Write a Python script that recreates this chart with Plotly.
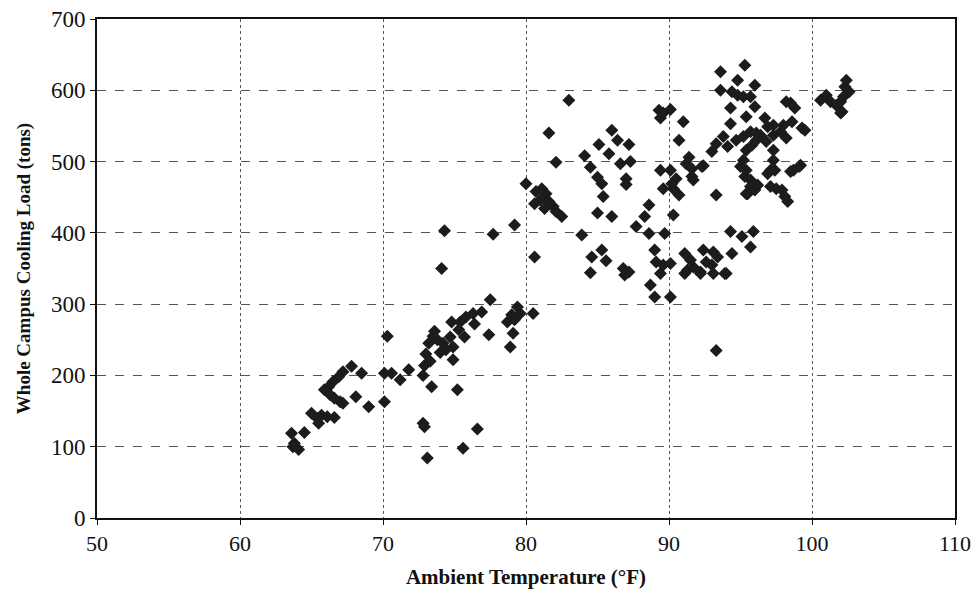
import plotly.graph_objects as go

# Ambient temperature (°F) and whole-campus cooling load (tons)
temp_a = [63.6, 63.8, 63.7, 64.1, 64.5, 65.0, 65.4, 65.7, 66.1, 66.6, 65.5, 67.2, 66.9, 66.5, 66.2, 65.9,
          66.3, 66.6, 67.0, 67.2, 67.8, 68.5, 68.1, 69.0, 70.1, 70.3, 70.1, 70.6, 71.2, 71.8, 72.8, 72.9,
          72.8, 72.9, 73.1]
load_a = [119, 105, 100, 96, 120, 147, 140, 144, 142, 141, 133, 205, 198, 191, 184, 180,
          173, 168, 163, 161, 213, 203, 170, 156, 163, 255, 203, 203, 194, 208, 200, 214,
          133, 128, 84]

temp_b = [73.4, 73.0, 73.2, 73.5, 73.8, 73.3, 74.2, 74.7, 74.9, 74.9, 75.3, 75.7, 74.8, 75.4, 75.8, 76.3,
          76.9, 76.4, 77.5, 77.4, 75.2, 75.6, 76.6, 74.3, 74.1, 77.7, 79.2, 79.4, 79.0, 79.6, 79.2, 78.7,
          79.1, 78.9, 80.5, 80.6, 73.6, 74.0, 74.4]
load_b = [184, 230, 245, 255, 250, 220, 245, 254, 240, 222, 264, 254, 275, 275, 282, 287,
          289, 272, 306, 257, 180, 98, 125, 403, 350, 398, 411, 296, 285, 287, 278, 275,
          259, 240, 287, 366, 262, 232, 236]

temp_c = [80.0, 80.7, 81.1, 81.4, 81.0, 80.6, 81.6, 81.3, 81.9, 82.1, 82.5, 81.6, 82.1, 83.0, 83.9]
load_c = [469, 458, 462, 455, 446, 441, 444, 434, 437, 430, 423, 540, 499, 586, 397]

temp_d = [84.6, 85.3, 85.6, 84.5, 86.0, 86.4, 87.2, 85.1, 85.8, 84.1, 86.6, 87.3, 84.5, 85.0, 85.3, 87.0,
          87.0, 85.4, 85.0, 86.0, 86.8, 87.2, 86.9, 88.7, 89.0, 90.1, 89.0, 89.1, 89.6, 90.1, 89.4, 91.1,
          92.2, 89.3, 90.1, 89.4, 89.6, 91.0, 90.7, 91.4, 91.2, 91.6, 91.6, 91.7, 92.4, 89.4, 90.1, 90.5,
          89.6, 90.3, 90.7, 88.6, 88.3, 87.7, 88.6, 89.7, 90.3, 91.1, 91.5, 91.3, 91.7, 92.2, 92.4, 92.3,
          90.2]
load_d = [366, 376, 361, 344, 544, 530, 524, 524, 511, 508, 497, 500, 492, 478, 469, 476,
          468, 451, 428, 423, 350, 345, 341, 327, 310, 310, 376, 359, 355, 357, 343, 343,
          343, 572, 573, 561, 568, 556, 530, 506, 497, 490, 479, 474, 494, 488, 488, 476,
          462, 462, 453, 439, 423, 409, 399, 399, 425, 371, 362, 348, 352, 345, 376, 493,
          469]

temp_e = [93.1, 93.4, 94.0, 93.0, 92.6, 93.1, 93.9, 94.4, 94.3, 95.1, 95.9, 95.7, 93.3, 95.5, 93.3, 93.6,
          95.3, 94.8, 96.0, 93.6, 94.4, 94.8, 95.2, 95.7, 94.3, 95.4, 96.0, 94.3, 93.8, 93.3, 94.1, 94.7,
          95.2, 95.7, 96.1, 95.8, 95.4, 93.0, 95.2, 95.4, 95.0, 95.7, 96.0, 95.4, 95.3, 95.7, 96.1, 96.7,
          96.9, 97.3, 98.0, 98.6, 97.8, 99.3, 98.2, 97.3, 96.4, 96.1, 96.8, 98.2, 98.8, 98.5, 99.5, 97.3,
          97.3, 97.1, 97.4, 96.9, 98.5, 99.1, 98.7, 99.2, 96.2, 97.1, 97.5, 97.9, 98.1, 98.3]
load_e = [373, 366, 343, 355, 359, 343, 343, 371, 402, 395, 402, 380, 453, 455, 235, 626,
          635, 614, 607, 600, 598, 593, 591, 591, 575, 563, 577, 553, 535, 525, 521, 530,
          535, 542, 540, 523, 516, 514, 502, 488, 493, 465, 460, 455, 479, 474, 465, 561,
          549, 551, 551, 556, 542, 547, 533, 537, 537, 530, 528, 584, 575, 582, 544, 516,
          502, 488, 488, 483, 486, 493, 488, 495, 467, 465, 462, 460, 451, 444]

temp_f = [100.6, 101.0, 101.3, 102.4, 102.3, 102.6, 102.2, 102.0, 101.7, 102.1, 102.0]
load_f = [586, 593, 584, 614, 605, 598, 591, 584, 579, 570, 568]

x_ticks = [50, 60, 70, 80, 90, 100, 110]
y_ticks = [0, 100, 200, 300, 400, 500, 600, 700]

temps = temp_a + temp_b + temp_c + temp_d + temp_e + temp_f
loads = load_a + load_b + load_c + load_d + load_e + load_f

fig = go.Figure()
fig.add_trace(go.Scatter(
    x=temps, y=loads, mode="markers",
    marker=dict(symbol="diamond", size=10, color="#1c1c1c", line=dict(width=0)),
    showlegend=False,
))

font_family = "Liberation Serif, Times New Roman, serif"
fig.update_layout(
    width=974, height=598, autosize=False,
    margin=dict(l=97, r=19, t=19, b=80),
    paper_bgcolor="white", plot_bgcolor="white",
    font=dict(family=font_family, color="#111111", size=20),
)
fig.update_xaxes(
    range=[50, 110], tickvals=x_ticks, ticktext=[str(v) for v in x_ticks],
    showgrid=True, gridcolor="#555555", griddash="dot", gridwidth=1,
    showline=True, linecolor="#111111", linewidth=2, mirror=True,
    ticks="outside", ticklen=5, tickcolor="#111111",
    zeroline=False, tickfont=dict(size=22, family=font_family),
    automargin=False, ticklabeloverflow="allow",
    title=dict(text="<b>Ambient Temperature (°F)</b>", font=dict(size=21, family=font_family), standoff=14),
)
fig.update_yaxes(
    range=[0, 700], tickvals=y_ticks, ticktext=[str(v) for v in y_ticks],
    showgrid=True, gridcolor="#555555", griddash="dash", gridwidth=1,
    showline=True, linecolor="#111111", linewidth=2, mirror=True,
    ticks="outside", ticklen=5, tickcolor="#111111",
    zeroline=False, tickfont=dict(size=23, family=font_family),
    automargin=False, ticklabeloverflow="allow",
    title=dict(text="<b>Whole Campus Cooling Load (tons)</b>", font=dict(size=19, family=font_family), standoff=15),
)

fig.write_html("out.html", config={"displayModeBar": False},
               post_script="document.body.style.margin='0';")
